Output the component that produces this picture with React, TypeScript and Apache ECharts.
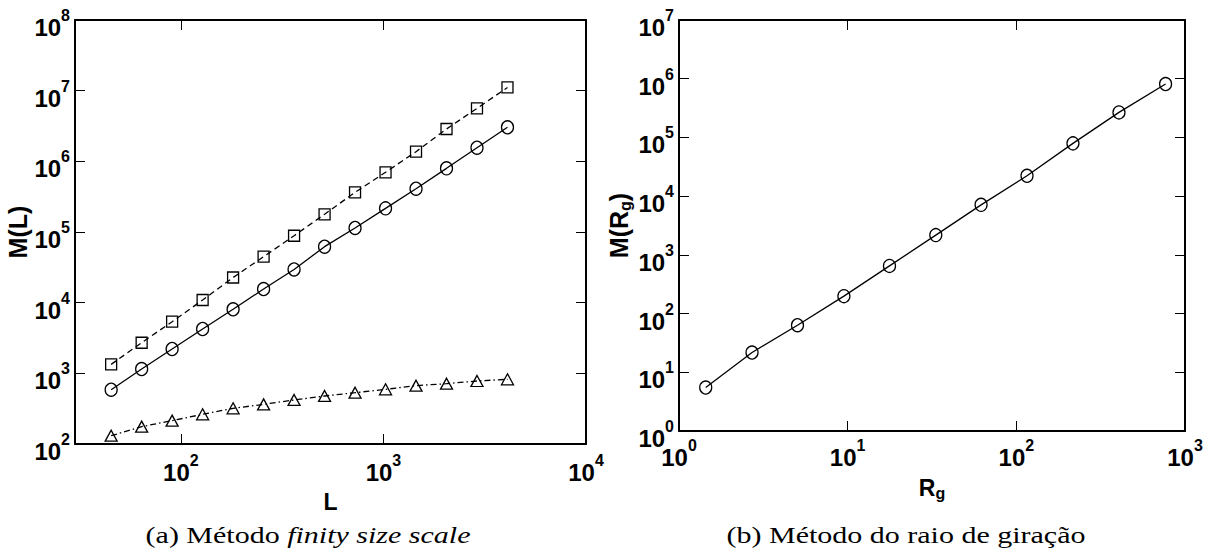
import React, { useEffect, useRef } from 'react';
import * as echarts from 'echarts';

// (a) finite size scaling: system size L and mass M(L) for three quantities
const sizesL = [45.25, 64, 90.5, 128, 181, 256, 362, 512, 724, 1024, 1448, 2048, 2896, 4096];
const massCircle = [587, 1150, 2210, 4240, 8050, 15600, 29500, 62000, 114000, 216000, 410000, 796000, 1560000, 3030000];
const massSquare = [1340, 2710, 5380, 10900, 22700, 44700, 88500, 178000, 364000, 700000, 1370000, 2870000, 5620000, 11100000];
const massTriangle = [131, 176, 214, 263, 320, 364, 420, 478, 532, 594, 669, 714, 779, 824];

// (b) radius of gyration R_g and mass M(R_g)
const radiusRg = [1.44, 2.71, 5.04, 9.5, 17.7, 33.3, 61.8, 115.7, 216.6, 406, 767];
const massRg = [5.5, 21.7, 63.3, 198, 649, 2170, 7110, 22200, 79200, 267000, 811000];

const captionA = ['(a) Método ', 'finity size scale'];
const captionB = '(b) Método do raio de giração';

const SANS = '"Liberation Sans", Arial, Helvetica, sans-serif';
const SERIF = '"Liberation Serif", "Times New Roman", serif';

const powLabel = (v: number) => {
  const e = Math.log10(v);
  const r = Math.round(e);
  if (Math.abs(e - r) > 1e-6) return '';
  return `{b|10}{s|${r}}`;
};

const tickRich = {
  b: { fontFamily: SANS, fontWeight: 'bold', fontSize: 24, color: '#000', padding: [8, 0, 0, 0], verticalAlign: 'bottom' },
  s: { fontFamily: SANS, fontWeight: 'bold', fontSize: 16, color: '#000', verticalAlign: 'top' },
};

const nameRich = {
  m: { fontFamily: SANS, fontWeight: 'bold', fontSize: 25, lineHeight: 28, color: '#000' },
  g: { fontFamily: SANS, fontWeight: 'bold', fontSize: 16, lineHeight: 17, color: '#000', verticalAlign: 'bottom' },
  x: { fontFamily: SANS, fontWeight: 'bold', fontSize: 23, lineHeight: 26, color: '#000' },
};

const axisLine = { show: true, lineStyle: { color: '#000', width: 2 } };
const axisTick = { show: true, inside: true, length: 10, lineStyle: { color: '#000', width: 1 } };

function labelledAxis(gridIndex: number, position: string, min: number, max: number, extra: any) {
  return {
    type: 'log',
    logBase: 10,
    gridIndex,
    position,
    min,
    max,
    axisLine,
    axisTick,
    splitLine: { show: false },
    minorTick: { show: false },
    axisLabel: {
      formatter: powLabel,
      rich: tickRich,
      showMinLabel: true,
      showMaxLabel: true,
      hideOverlap: false,
      ...extra.axisLabel,
    },
    nameLocation: 'middle',
    nameTextStyle: { fontFamily: SANS, fontWeight: 'bold', fontSize: 24, color: '#000', rich: nameRich },
    ...extra.rest,
  };
}

function mirrorAxis(gridIndex: number, position: string, min: number, max: number) {
  return {
    type: 'log',
    logBase: 10,
    gridIndex,
    position,
    min,
    max,
    axisLine,
    axisTick,
    splitLine: { show: false },
    axisLabel: { show: false },
  };
}

function markerSeries(xi: number, yi: number, xs: number[], ys: number[], symbol: string, size: any, dash: any) {
  return {
    type: 'line',
    xAxisIndex: xi,
    yAxisIndex: yi,
    data: xs.map((x, i) => [x, ys[i]]),
    symbol,
    symbolSize: size,
    showSymbol: true,
    silent: true,
    lineStyle: { color: '#000', width: 1.3, type: dash },
    itemStyle: { color: 'rgba(0,0,0,0)', borderColor: '#000', borderWidth: 1.3 },
    emphasis: { disabled: true },
    z: 3,
  };
}

export default function App() {
  const ref = useRef<HTMLDivElement>(null);

  useEffect(() => {
    if (!ref.current) return;
    const chart = echarts.init(ref.current, undefined, { renderer: 'svg' });
    chart.setOption({
      animation: false,
      backgroundColor: '#fff',
      grid: [
        { left: 75, top: 20, width: 511, height: 424, outerBoundsMode: 'none' },
        { left: 679, top: 20, width: 506, height: 411, outerBoundsMode: 'none' },
      ],
      xAxis: [
        labelledAxis(0, 'bottom', 30, 10000, { axisLabel: { margin: 8 }, rest: { name: '{x|L}', nameGap: 45 } }),
        mirrorAxis(0, 'top', 30, 10000),
        labelledAxis(1, 'bottom', 1, 1000, { axisLabel: { margin: 6 }, rest: { name: '{x|R}{g|g}', nameGap: 44 } }),
        mirrorAxis(1, 'top', 1, 1000),
      ],
      yAxis: [
        labelledAxis(0, 'left', 100, 1e8, { axisLabel: { margin: 5, padding: [7, 0, 0, 0] }, rest: { name: '{m|M(L)}', nameGap: 43, nameRotate: 90 } }),
        mirrorAxis(0, 'right', 100, 1e8),
        labelledAxis(1, 'left', 1, 1e7, { axisLabel: { margin: 5, padding: [7, 0, 0, 0] }, rest: { name: '{m|M(R}{g|g}{m|)}', nameGap: 46, nameRotate: 90 } }),
        mirrorAxis(1, 'right', 1, 1e7),
      ],
      series: [
        markerSeries(0, 0, sizesL, massSquare, 'rect', [11, 11], [6, 4]),
        markerSeries(0, 0, sizesL, massCircle, 'circle', [12, 13], 'solid'),
        markerSeries(0, 0, sizesL, massTriangle, 'triangle', [12, 11], [6, 3, 1.5, 3]),
        markerSeries(2, 2, radiusRg, massRg, 'circle', [12, 13], 'solid'),
      ],
      graphic: [
        {
          type: 'text',
          x: 308,
          y: 535,
          scaleX: 1.25,
          style: {
            text: `{n|${captionA[0]}}{i|${captionA[1]}}`,
            align: 'center',
            verticalAlign: 'middle',
            rich: {
              n: { fontFamily: SERIF, fontSize: 24, fill: '#000' },
              i: { fontFamily: SERIF, fontSize: 24, fontStyle: 'italic', fill: '#000' },
            },
          },
        },
        {
          type: 'text',
          x: 906,
          y: 535,
          scaleX: 1.25,
          style: { text: captionB, align: 'center', verticalAlign: 'middle', fontFamily: SERIF, fontSize: 24, fill: '#000' },
        },
      ],
    });
    return () => chart.dispose();
  }, []);

  return <div ref={ref} style={{ position: 'fixed', left: 0, top: 0, width: 1217, height: 554 }} />;
}
